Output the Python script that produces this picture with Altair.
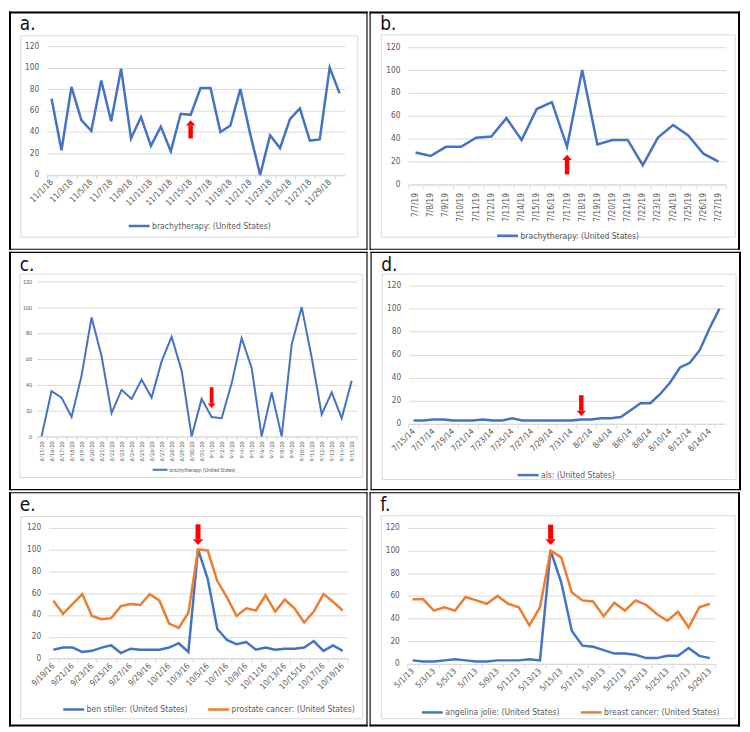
import math
import altair as alt
import pandas as pd

# ---------------- data ----------------
def span(m, d0, d1, yy):
    return [f"{m}/{d}/{yy}" for d in range(d0, d1 + 1)]

a_dates = span(11, 1, 30, 18)
a_brachy = [71, 23, 82, 51, 41, 88, 50, 99, 34, 54, 27, 45, 22, 57, 56, 81, 81, 40,
            46, 80, 38, 0, 37, 25, 52, 62, 32, 33, 100, 76]
a_ticks = a_dates[::2]
a_arrow = ["11/15/18", 34, 51]

b_dates = span(7, 7, 27, 19)
b_brachy = [28, 25, 33, 33, 41, 42, 58, 39, 66, 72, 33, 100, 35, 39, 39, 17, 41, 52, 43, 27, 20]
b_ticks = b_dates
b_arrow = ["7/17/19", 9, 26]

c_dates = span(8, 15, 31, 20) + span(9, 1, 15, 20)
c_brachy = [0, 35, 30, 15, 47, 92, 62, 18, 36, 29, 44, 30, 58, 77, 51, 0, 29, 15, 14, 41,
            76, 53, 0, 34, 0, 71, 100, 61, 17, 34, 14, 43]
c_ticks = c_dates
c_arrow = ["9/1/20", 38, 22]

d_dates = span(7, 15, 31, 14) + span(8, 1, 15, 14)
d_als = [3, 3, 4, 4, 3, 3, 3, 4, 3, 3, 5, 3, 3, 3, 3, 3, 3, 4, 4, 5, 5, 6, 12, 18, 18,
         26, 36, 49, 53, 64, 83, 100]
d_ticks = d_dates[::2]
d_arrow = ["8/1/14", 25, 7]

e_dates = span(9, 19, 30, 16) + span(10, 1, 19, 16)
e_stiller = [8, 10, 10, 6, 7, 10, 12, 5, 9, 8, 8, 8, 10, 14, 6, 100, 73, 27, 17, 13, 15,
             8, 10, 8, 9, 9, 10, 16, 7, 12, 7]
e_prostate = [53, 41, 50, 59, 39, 36, 37, 48, 50, 49, 59, 53, 32, 28, 42, 100, 99, 71, 56,
              39, 46, 44, 58, 43, 54, 46, 33, 43, 59, 52, 44]
e_ticks = e_dates[::2]
e_arrow = ["10/4/16", 123, 104]

f_dates = span(5, 1, 29, 13)
f_jolie = [3, 2, 2, 3, 4, 3, 2, 2, 3, 3, 3, 4, 3, 100, 72, 29, 16, 15, 12, 9, 9, 8, 5, 5,
           7, 7, 14, 7, 5]
f_breast = [57, 57, 47, 50, 47, 59, 56, 53, 60, 53, 50, 34, 50, 100, 94, 63, 56, 55, 42,
            54, 47, 56, 52, 44, 38, 46, 32, 50, 53]
f_ticks = f_dates[::2]
f_arrow = ["5/14/13", 123, 105]

y_ticks = [0, 20, 40, 60, 80, 100, 120]

# ---------------- style ----------------
BLUE = "#4472C4"
ORANGE = "#ED7D31"
GRID = "#d9d9d9"
TXT = "#595959"
RED = "#ff0000"
NARROW = "Liberation Sans Narrow, DejaVu Sans Condensed, Lato, sans-serif"
REG = "Lato, Liberation Sans, sans-serif"

PATH_UP = "M0,0L1,1.1L-1,1.1Z"
PATH_DOWN = "M0,0L1,-1.1L-1,-1.1Z"

# reference cell geometry (pixels relative to each cell's top-left corner)
geo_a = dict(cw=367, ch=245, plot=(38.5, 35.7, 343.5, 168.0), gray=(12, 25, 357, 232),
             lab=(11, 19.5), leg=(121, 219))
geo_b = dict(cw=379, ch=245, plot=(39.3, 36.7, 364.8, 178.0), gray=(12, 24, 374, 232),
             lab=(11, 19.5), leg=(129, 229))
geo_c = dict(cw=367, ch=245, plot=(28.2, 30.3, 355.9, 189.7), gray=(11, 23, 362, 232),
             lab=(11, 19.5), leg=(146, 223))
geo_d = dict(cw=379, ch=245, plot=(39.0, 34.7, 362.0, 177.0), gray=(12, 23, 374, 234),
             lab=(11, 19.5), leg=(149, 228))
geo_e = dict(cw=367, ch=240, plot=(40.5, 36.3, 346.5, 170.3), gray=(12, 25, 362, 232),
             lab=(11, 19.5), leg=(54, 221))
geo_f = dict(cw=379, ch=240, plot=(38.6, 36.7, 353.6, 175.7), gray=(12, 24, 374, 232),
             lab=(11, 19.5), leg=(52, 224))

LW, RW = 361, 373          # output column widths
RH = [240, 240, 236]       # output row heights
BW_OUT, BW_IN = 2.0, 1.15  # frame thickness on outer edges / shared edges


def common_offsets(geos, cws, chs, idx, scale_dim):
    vals = []
    for g, cw, ch in zip(geos, cws, chs):
        s = (cw / g["cw"]) if scale_dim == 0 else (ch / g["ch"])
        vals.append(g["plot"][idx] * s)
    return math.ceil(max(vals))


def bar(x1, x2, y1, y2, color):
    return alt.Chart(pd.DataFrame({"k": [0]})).mark_rect(fill=color).encode(
        x=alt.value(x1), x2=alt.value(x2), y=alt.value(y1), y2=alt.value(y2))


def panel(letter, cats, series, ticks, arrow, geo, cell_w, cell_h, Lc, Tc, st, outer):
    sx = cell_w / geo["cw"]
    sy = cell_h / geo["ch"]
    pl, pt, pr, pb = geo["plot"]
    x0 = pl * sx - Lc
    W = pr * sx - Lc
    y0 = pt * sy - Tc
    H = pb * sy - Tc

    rows = []
    for name, vals in series:
        for i, (c, v) in enumerate(zip(cats, vals)):
            rows.append({"date": c, "value": v, "series": name, "idx": i})
    df = pd.DataFrame(rows)
    one = pd.DataFrame({"k": [0]})

    xscale = alt.Scale(type="band", domain=cats, range=[x0, W], paddingInner=0, paddingOuter=0)
    xaxis = alt.Axis(values=ticks, labelAngle=st["angle"], labelAlign="right",
                     labelBaseline="middle", labelFont=st["font"],
                     labelFontSize=st["fs"], labelColor=TXT, domainColor=GRID,
                     tickColor=GRID, tickSize=st["tick"], tickBand="extent",
                     labelPadding=st["xpad"], grid=False, title=None,
                     labelOverlap=False, labelBound=False)
    X = alt.X("date:O", scale=xscale, axis=xaxis, bandPosition=0.5, title=None)
    yscale = alt.Scale(domain=[0, 120], nice=False, zero=True, range=[H, y0])
    yaxis = alt.Axis(values=y_ticks, grid=True, gridColor=GRID, gridWidth=1,
                     domain=False, ticks=False, labelFont=st["font"],
                     labelFontSize=st["fs"], labelColor=TXT, offset=-x0,
                     labelPadding=st["ypad"], title=None)

    names = [n for n, _ in series]
    colors = [BLUE, ORANGE][: len(names)]
    lx, ly = geo["leg"]
    legend = alt.Legend(orient="none", legendX=lx * sx - Lc,
                        legendY=ly * sy - Tc - st["symlen"] / 2,
                        direction="horizontal", symbolType="stroke",
                        symbolStrokeWidth=st["lw"], symbolSize=st["symlen"] ** 2,
                        labelFont=st["font"], labelFontSize=st["lfs"],
                        labelColor=TXT, columnPadding=st["colpad"],
                        labelOffset=1, padding=0, title=None)
    line = alt.Chart(df).mark_line(strokeWidth=st["lw"]).encode(
        x=X,
        y=alt.Y("value:Q", scale=yscale, axis=yaxis, title=None),
        color=alt.Color("series:N", scale=alt.Scale(domain=names, range=colors),
                        legend=legend),
        order=alt.Order("idx:Q"),
    )

    # panel frame drawn as four black bars along the cell edges
    bl, br, bt, bb = [BW_OUT if o else BW_IN for o in outer]
    x_l, x_r, y_t, y_b = -Lc, cell_w - Lc, -Tc, cell_h - Tc
    frame = [
        bar(x_l, x_l + bl, y_t, y_b, "black"),
        bar(x_r - br, x_r, y_t, y_b, "black"),
        bar(x_l, x_r, y_t, y_t + bt, "black"),
        bar(x_l, x_r, y_b - bb, y_b, "black"),
    ]
    g = geo["gray"]
    gray = alt.Chart(one).mark_rect(fill="white", fillOpacity=0, stroke=GRID,
                                    strokeWidth=1).encode(
        x=alt.value(g[0] * sx - Lc), x2=alt.value(g[2] * sx - Lc),
        y=alt.value(g[1] * sy - Tc), y2=alt.value(g[3] * sy - Tc))
    lab = alt.Chart(one).mark_text(text=letter, align="left", baseline="alphabetic",
                                   fontSize=19, font=NARROW, color="#111111").encode(
        x=alt.value(geo["lab"][0] * sx - Lc), y=alt.value(geo["lab"][1] * sy - Tc))

    adf = pd.DataFrame({"date": [arrow[0]], "tail": [arrow[1]], "tip": [arrow[2]]})
    up = arrow[2] > arrow[1]
    hh = st["head"] * 0.55
    shaft = alt.Chart(adf).mark_rule(color=RED, strokeWidth=st["shaft"],
                                     y2Offset=(hh if up else -hh)).encode(
        x=X, y=alt.Y("tail:Q", scale=yscale, axis=yaxis, title=None),
        y2=alt.Y2("tip:Q", title=None))
    head = alt.Chart(adf).mark_point(shape=PATH_UP if up else PATH_DOWN,
                                     size=st["head"] ** 2, filled=True, color=RED,
                                     opacity=1, strokeWidth=0).encode(
        x=X, y=alt.Y("tip:Q", scale=yscale, axis=yaxis, title=None))

    return alt.layer(*frame, gray, lab, line, shaft, head).properties(width=W, height=H)


base = dict(angle=-45, font=NARROW, fs=8.3, lfs=8.6, tick=4, xpad=2, ypad=8,
            lw=2.5, symlen=21, colpad=15, shaft=4.5, head=9.5)
st_a = dict(base)
st_b = dict(base, angle=-90, xpad=4)
st_c = dict(base, angle=-90, font=REG, fs=5.3, lfs=5, tick=3, xpad=1.5, ypad=5,
            lw=2, symlen=15, shaft=3.8, head=8)
st_d = dict(base)
st_e = dict(base, shaft=5, head=10.5)
st_f = dict(base, shaft=5, head=10.5)

# common plot origins: same left offset per column, same top offset per row
L_left = common_offsets([geo_a, geo_c, geo_e], [LW] * 3, RH, 0, 0)
L_right = common_offsets([geo_b, geo_d, geo_f], [RW] * 3, RH, 0, 0)
T_rows = [common_offsets([ga, gb], [LW, RW], [h, h], 1, 1)
          for ga, gb, h in [(geo_a, geo_b, RH[0]), (geo_c, geo_d, RH[1]), (geo_e, geo_f, RH[2])]]

# outer edges: (left, right, top, bottom)
pa = panel("a.", a_dates, [("brachytherapy: (United States)", a_brachy)], a_ticks, a_arrow,
           geo_a, LW, RH[0], L_left, T_rows[0], st_a, (True, False, True, False))
pb = panel("b.", b_dates, [("brachytherapy: (United States)", b_brachy)], b_ticks, b_arrow,
           geo_b, RW, RH[0], L_right, T_rows[0], st_b, (False, True, True, False))
pc = panel("c.", c_dates, [("brachytherapy: (United States)", c_brachy)], c_ticks, c_arrow,
           geo_c, LW, RH[1], L_left, T_rows[1], st_c, (True, False, False, False))
pd_ = panel("d.", d_dates, [("als: (United States)", d_als)], d_ticks, d_arrow,
            geo_d, RW, RH[1], L_right, T_rows[1], st_d, (False, True, False, False))
pe = panel("e.", e_dates, [("ben stiller: (United States)", e_stiller),
                           ("prostate cancer: (United States)", e_prostate)], e_ticks, e_arrow,
           geo_e, LW, RH[2], L_left, T_rows[2], st_e, (True, False, False, True))
pf = panel("f.", f_dates, [("angelina jolie: (United States)", f_jolie),
                           ("breast cancer: (United States)", f_breast)], f_ticks, f_arrow,
           geo_f, RW, RH[2], L_right, T_rows[2], st_f, (False, True, False, True))

chart = alt.vconcat(
    alt.hconcat(pa, pb, spacing=0).resolve_scale(color="independent"),
    alt.hconcat(pc, pd_, spacing=0).resolve_scale(color="independent"),
    alt.hconcat(pe, pf, spacing=0).resolve_scale(color="independent"),
    spacing=0,
).resolve_scale(color="independent").properties(padding=0, background="white").configure_view(stroke="transparent")

chart.save("out.html", embed_options={"renderer": "svg", "actions": False})
